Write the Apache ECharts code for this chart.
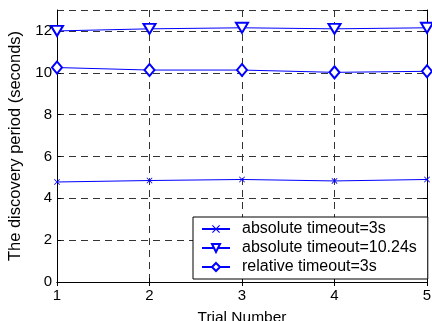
<!DOCTYPE html>
<html>
<head>
<meta charset="utf-8">
<script src="https://cdn.jsdelivr.net/npm/echarts@6/dist/echarts.min.js"></script>
<style>
  html, body { margin: 0; padding: 0; background: #fff; }
  #chart { width: 432px; height: 321px; }
</style>
</head>
<body>
<div id="chart"></div>
<script>
const trials = ['1', '2', '3', '4', '5']
const absolute3s = [4.78, 4.85, 4.9, 4.83, 4.9]
const absolute1024s = [12.0, 12.1, 12.15, 12.1, 12.15]
const relative3s = [10.25, 10.13, 10.13, 10.02, 10.07]
const seriesNames = ['absolute timeout=3s', 'absolute timeout=10.24s', 'relative timeout=3s']

const font = 'Liberation Sans, Arial, Helvetica, sans-serif'
const blue = '#0000ff'
// cross marker ("x")
const crossPath = 'path://M0,1L1,0L5,4L9,0L10,1L6,5L10,9L9,10L5,6L1,10L0,9L4,5Z'

const chart = echarts.init(document.getElementById('chart'))

const gridDash = { color: '#333', width: 1, type: [7, 5] }
const tickIn = { show: true, inside: true, length: 4, lineStyle: { color: '#000' } }

chart.setOption({
  animation: false,
  backgroundColor: '#fff',
  textStyle: { fontFamily: font },
  grid: { left: 57, right: 5, top: 10, bottom: 39, containLabel: false, outerBoundsMode: 'none' },
  xAxis: [
    {
      type: 'category',
      data: trials,
      boundaryGap: false,
      name: 'Trial Number',
      nameLocation: 'middle',
      nameGap: 28,
      nameTextStyle: { color: '#000', fontSize: 15.5, fontFamily: font },
      axisLine: { show: true, lineStyle: { color: '#000', width: 1 } },
      axisTick: tickIn,
      axisLabel: { color: '#000', fontSize: 15, margin: 6, fontFamily: font },
      splitLine: { show: true, lineStyle: gridDash }
    },
    {
      type: 'category',
      data: trials,
      boundaryGap: false,
      position: 'top',
      axisLine: { show: true, lineStyle: { color: '#000', width: 1 } },
      axisTick: tickIn,
      axisLabel: { show: false },
      splitLine: { show: false }
    }
  ],
  yAxis: [
    {
      type: 'value',
      min: 0,
      max: 13,
      interval: 2,
      name: 'The discovery period (seconds)',
      nameLocation: 'middle',
      nameGap: 31,
      nameTextStyle: { color: '#000', fontSize: 16.5, fontFamily: font },
      axisLine: { show: true, lineStyle: { color: '#000', width: 1 } },
      axisTick: tickIn,
      axisLabel: {
        color: '#000', fontSize: 15, margin: 5, fontFamily: font,
        showMaxLabel: false
      },
      splitLine: { show: true, lineStyle: gridDash }
    },
    {
      type: 'value',
      min: 0,
      max: 13,
      interval: 2,
      position: 'right',
      axisLine: { show: true, lineStyle: { color: '#000', width: 1 } },
      axisTick: tickIn,
      axisLabel: { show: false },
      splitLine: { show: false }
    }
  ],
  legend: {
    orient: 'vertical',
    left: 193,
    top: 217,
    data: seriesNames,
    backgroundColor: '#fff',
    borderColor: '#000',
    borderWidth: 1,
    borderRadius: 0,
    padding: [4, 11, 4, 8],
    itemWidth: 28,
    itemHeight: 10,
    itemGap: 3,
    textStyle: { color: '#000', fontSize: 16, fontFamily: font, padding: [0, 0, 0, 7] },
    z: 10
  },
  series: [
    {
      name: seriesNames[0],
      type: 'line',
      data: absolute3s,
      symbol: crossPath,
      symbolSize: 6,
      lineStyle: { color: blue, width: 1 },
      itemStyle: { color: blue }
    },
    {
      name: seriesNames[1],
      type: 'line',
      data: absolute1024s,
      symbol: 'emptyTriangle',
      symbolRotate: 180,
      symbolSize: [12, 10],
      lineStyle: { color: blue, width: 1 },
      itemStyle: { color: blue, borderColor: blue, borderWidth: 1 }
    },
    {
      name: seriesNames[2],
      type: 'line',
      data: relative3s,
      symbol: 'emptyDiamond',
      symbolSize: [10, 12],
      lineStyle: { color: blue, width: 1 },
      itemStyle: { color: blue, borderColor: blue, borderWidth: 1 }
    }
  ]
})
</script>
</body>
</html>
